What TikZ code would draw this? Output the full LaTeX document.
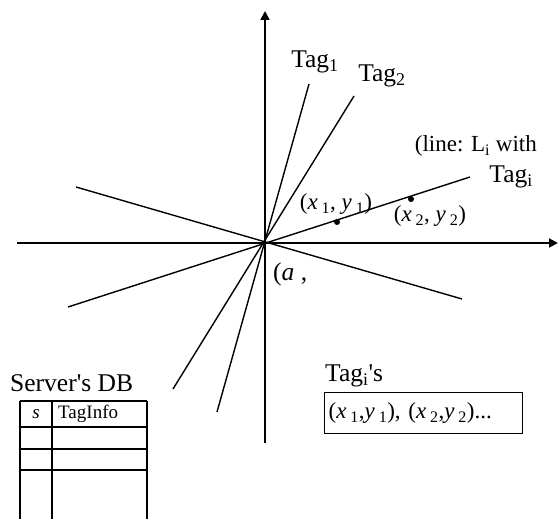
\documentclass[tikz,border=0pt]{standalone}
\usepackage{fontspec}
\setmainfont{Liberation Serif}
\usetikzlibrary{arrows.meta,positioning}

\begin{document}
\begin{tikzpicture}[x=1pt,y=-1pt,>={Triangle[length=9pt,width=9pt]},
  every node/.style={font=\fontsize{25.5}{30}\selectfont,inner sep=0pt},
  axis/.style={line width=1.8pt},
  ray/.style={line width=1.4pt},
  grid/.style={line width=1.4pt},
  dot/.style={circle,fill,minimum size=6pt,inner sep=0pt},
  small/.style={font=\fontsize{19}{22}\selectfont},
  listfont/.style={font=\fontsize{23}{27}\selectfont}]
  \useasboundingbox (0,0) rectangle (558,519);
  % axes
  \coordinate (o) at (265,243);
  \coordinate (xl) at (17,243);
  \coordinate (xr) at (558,243);
  \coordinate (yt) at (265,11);
  \coordinate (yb) at (265,443);
  \draw[axis,->] (xl) -- (xr);
  \draw[axis,->] (yb) -- (yt);
  % lines through the origin
  \coordinate (t1a) at (217,412); \coordinate (t1b) at (309,84);
  \coordinate (t2a) at (173,389); \coordinate (t2b) at (354,96);
  \coordinate (lia) at (68,307);  \coordinate (lib) at (470,177);
  \coordinate (ula) at (76,187);  \coordinate (ulb) at (462,299);
  \draw[ray] (t1a) -- (t1b);
  \draw[ray] (t2a) -- (t2b);
  \draw[ray] (lia) -- (lib);
  \draw[ray] (ula) -- (ulb);
  % points on L_i
  \node[dot] (p1) at (337,222) {};
  \node[dot] (p2) at (411,199) {};
  % labels
  \node (tag1) at (315,62) {Tag\textsubscript{1}};
  \node (tag2) at (382,76) {Tag\textsubscript{2}};
  \node[listfont,anchor=east] (line) at (537,146) {(line: L\textsubscript{i} with};
  \node[anchor=east] (tagi) at (533,177) {Tag\textsubscript{i}};
  \node[listfont] (p1lbl) at (336,204) {(\textit{x}\,\textsubscript{1}, \textit{y}\,\textsubscript{1})};
  \node[listfont] (p2lbl) at (430,216) {(\textit{x}\,\textsubscript{2}, \textit{y}\,\textsubscript{2})};
  \node[anchor=west] (a) at (273,274) {(\textit{a} ,};
  % tag list
  \node[anchor=west] (tagis) at (325,376) {Tag\textsubscript{i}\textquotesingle s};
  \node[draw,listfont,line width=1.4pt,anchor=north west,minimum width=198pt,minimum height=41pt,
    text width=190pt,inner xsep=4pt,align=left] (list) at (324,392)
    {(\textit{x}\,\textsubscript{1},\textit{y}\,\textsubscript{1}), (\textit{x}\,\textsubscript{2},\textit{y}\,\textsubscript{2})...};
  % server table
  \node[anchor=west] (db) at (10,383) {Server\textquotesingle s DB};
  \foreach \y in {401,427,449,470} \draw[grid] (20,\y) -- (147,\y);
  \foreach \x in {20,52,147} \draw[grid] (\x,401) -- (\x,519);
  \node[small] (s) at (36,414) {\textit{s}};
  \node[small,anchor=west] (info) at (58,414) {TagInfo};
\end{tikzpicture}
\end{document}
